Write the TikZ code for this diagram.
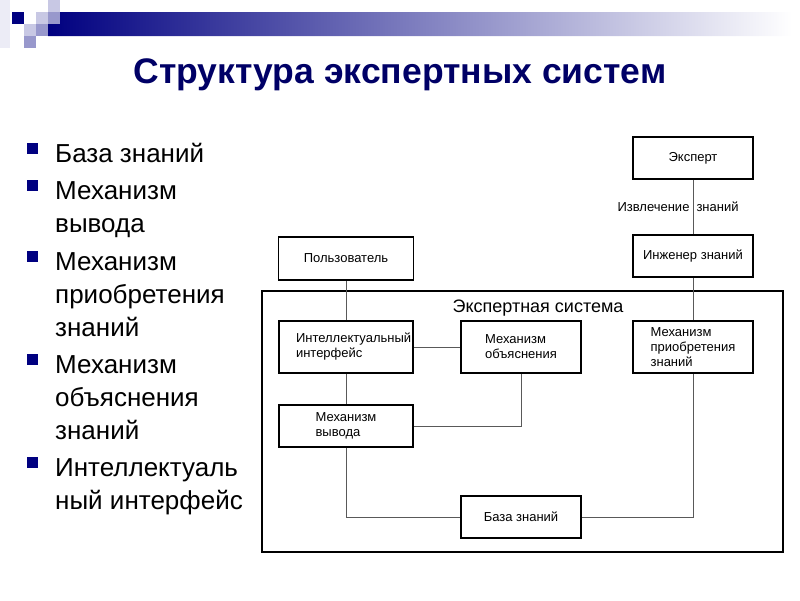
\documentclass[tikz,border=0pt]{standalone}
\usepackage{fontspec}
\setmainfont{Liberation Sans}
\usetikzlibrary{positioning}
\definecolor{navy}{RGB}{0,0,128}
\definecolor{ttl}{RGB}{0,0,102}
\definecolor{lav}{RGB}{200,200,228}
\definecolor{lavd}{RGB}{152,152,204}

\tikzset{
  blk/.style={draw, line width=1.8pt, minimum width=120pt, minimum height=42pt,
    align=left, inner sep=2pt, font=\fontsize{13}{15}\selectfont},
  ln/.style={draw=black!65, line width=1pt},
  itm/.style={anchor=base west, align=left, inner sep=0pt,
    font=\fontsize{26}{33}\selectfont},
}

\begin{document}
\begin{tikzpicture}[x=1pt, y=-1pt]
    \useasboundingbox (0,0) rectangle (800,600);

    % polosa vverhu
    \fill[lav!35] (0,0) rectangle (10,48);
    \shade[left color=navy, right color=white]
      (48,24) -- (60,24) -- (60,12) -- (792,12) -- (792,36) -- (48,36) -- cycle;
    \fill[navy] (12,12) rectangle (24,24);
    \fill[lav] (48,0) rectangle (60,12);
    \fill[lav] (36,12) rectangle (48,24);
    \fill[lavd] (48,12) rectangle (60,24);
    \fill[lav] (24,24) rectangle (36,36);
    \fill[lavd] (36,24) rectangle (48,36);
    \fill[lavd] (24,36) rectangle (36,48);

    \node[anchor=base, font=\bfseries\fontsize{35.5}{41}\selectfont, text=ttl] (title)
      at (400,83) {Структура экспертных систем};

    % spisok: pervaya stroka / poslednyaya stroka
    \foreach \yy/\yl/\txt in {162/162/{База знаний}, 199/232/{Механизм\\вывода},
        270/336/{Механизм\\приобретения\\знаний}, 373/439/{Механизм\\объяснения\\знаний},
        476/509/{Интеллектуаль\\ный интерфейс}} {
      \fill[navy] (27,{\yy-19}) rectangle ++(11,11);
      \node[itm] at (55,\yl) {\txt};
    }

    % ekspertnaya sistema
    \node[draw, line width=1.2pt, minimum width=521pt, minimum height=261pt,
      inner sep=0pt] (sys) at (522.5,421.5) {};
    \node[anchor=base, font=\fontsize{18}{21}\selectfont] (sysl) at (538,312)
      {Экспертная система};

    \node[blk] (expert) at (693,158) {Эксперт};
    \node[blk] (eng) at (693,256) {Инженер знаний};
    \node[blk, minimum width=135pt, minimum height=43pt] (user) at (346,258.5) {Пользователь};
    \node[blk, minimum width=134pt, minimum height=52pt, text width=100pt] (intf) at (346,347)
      {Интеллектуальный\\интерфейс};
    \node[blk, minimum height=52pt] (expl) at (521,347) {Механизм\\объяснения};
    \node[blk, minimum height=52pt] (acq) at (693,347) {Механизм\\приобретения\\знаний};
    \node[blk, minimum width=134pt] (infer) at (346,426) {Механизм\\вывода};
    \node[blk] (kb) at (521,517) {База знаний};

    % svyazi
    \draw[ln] (expert) -- node[left, inner sep=3pt, font=\fontsize{13}{15}\selectfont] {Извлечение}
      node[right, inner sep=3pt, font=\fontsize{13}{15}\selectfont] {знаний} (eng);
    \draw[ln] (eng) -- (acq);
    \draw[ln] (user) -- (intf);
    \draw[ln] (intf) -- (expl);
    \draw[ln] (intf) -- (infer);
    \draw[ln] (expl.south) |- (infer.east);
    \draw[ln] (infer.south) |- (kb.west);
    \draw[ln] (kb.east) -| (acq.south);
\end{tikzpicture}
\end{document}
